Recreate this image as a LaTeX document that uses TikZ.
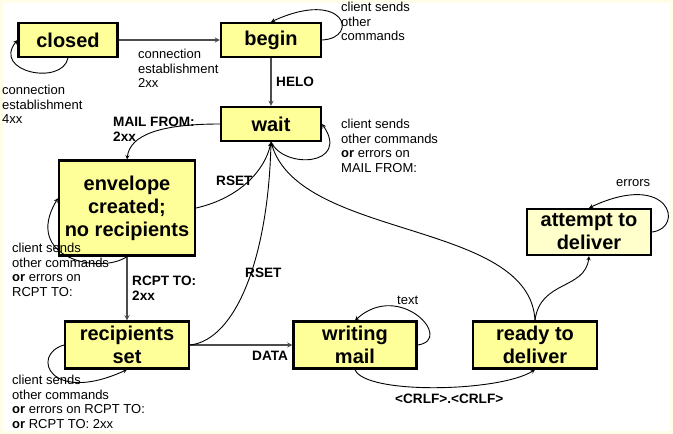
\documentclass[tikz,border=0pt]{standalone}
\usepackage{fontspec}
\setmainfont{Liberation Sans}
\usetikzlibrary{arrows}
\definecolor{boxyellow}{RGB}{255,255,153}
\definecolor{paleyellow}{RGB}{255,255,204}
\definecolor{cream}{RGB}{255,252,232}
\begin{document}
\begin{tikzpicture}[>=stealth,x=1pt,y=-1pt,
	box/.style={draw,line width=2.2pt,fill=boxyellow,align=center,inner sep=0pt,
		font=\bfseries\fontsize{20}{23}\selectfont},
	lbl/.style={anchor=north west,inner sep=0pt,align=left,font=\fontsize{13}{14.5}\selectfont},
	cmd/.style={lbl,font=\bfseries\fontsize{13.6}{14.5}\selectfont},
	straight/.style={->,draw=black!70,line width=1.3pt},
	curve/.style={->,line width=0.9pt}]
			\useasboundingbox (0,0) rectangle (673,434);
			\fill[cream] (0,0) rectangle (673,434);
			\fill[white] (3,3) rectangle (670,431);
			% states
			\node[box,minimum width=99,minimum height=34] (closed) at (68,40) {closed};
			\node[box,minimum width=100,minimum height=34] (begin) at (271,40) {begin};
			\node[box,minimum width=100,minimum height=34] (wait) at (271,124) {wait};
			\node[box,minimum width=136,minimum height=95] (envelope) at (127,208) {envelope\\created;\\no recipients};
			\node[box,minimum width=124,minimum height=47] (rcpts) at (127,345) {recipients\\set};
			\node[box,minimum width=123,minimum height=47] (writing) at (355,345) {writing\\mail};
			\node[box,minimum width=124,minimum height=47] (ready) at (535,345) {ready to\\deliver};
			\node[box,fill=paleyellow,minimum width=124,minimum height=46] (attempt) at (589,232) {attempt to\\deliver};
			% straight transitions
			\draw[straight] (closed) -- (begin);
			\draw[straight] (begin) -- (wait);
			\draw[straight] (envelope) -- (rcpts);
			\draw[straight] (rcpts) -- (writing);
			% curved transitions
			\draw[curve] (closed.south) .. controls (62,86) and (-8,72) .. (closed.west);
			\draw[curve] (begin.east) .. controls (360,38) and (345,-12) .. (begin.north);
			\draw[curve] (wait.south) .. controls (285,170) and (350,165) .. (wait.east);
			\draw[curve] (wait.west) .. controls (160,124) and (130,135) .. (envelope.north);
			\draw[curve] (envelope.east) .. controls (240,198) and (265,170) .. (wait.south);
			\draw[curve] (envelope.south) .. controls (100,275) and (22,258) .. (envelope.172);
			\draw[curve] (rcpts.west) .. controls (30,355) and (50,405) .. (rcpts.south);
			\draw[curve] (rcpts.east) .. controls (235,340) and (268,260) .. (wait.south);
			\draw[curve] (writing.east) .. controls (455,340) and (400,280) .. (writing.north);
			\draw[curve] (writing.south) .. controls (365,395) and (500,392) .. (ready.south);
			\draw[curve] (ready.north) .. controls (530,220) and (300,240) .. (wait.south);
			\draw[curve] (ready.north) .. controls (540,280) and (585,290) .. (attempt.south);
			\draw[curve] (attempt.east) .. controls (685,228) and (670,170) .. (attempt.north);
			% labels
			\node[lbl] (l2xx) at (138,49) {connection\\establishment\\2xx};
			\node[lbl] (l4xx) at (2,85) {connection\\establishment\\4xx};
			\node[lbl] (lbegin) at (341,2) {client sends\\other\\commands};
			\node[cmd] (lhelo) at (276,77) {HELO};
			\node[lbl] (lwait) at (341,119) {client sends\\other commands\\\textbf{or} errors on\\MAIL FROM:};
			\node[cmd] (lmail) at (113,117) {MAIL FROM:\\2xx};
			\node[cmd] (lrset1) at (216,176) {RSET};
			\node[lbl] (lenv) at (12,243) {client sends\\other commands\\\textbf{or} errors on\\RCPT TO:};
			\node[cmd] (lrcpt) at (132,276) {RCPT TO:\\2xx};
			\node[cmd] (lrset2) at (245,268) {RSET};
			\node[lbl] (lrcpts) at (12,375) {client sends\\other commands\\\textbf{or} errors on RCPT TO:\\\textbf{or} RCPT TO: 2xx};
			\node[cmd] (ldata) at (252,351) {DATA};
			\node[lbl] (ltext) at (397,296) {text};
			\node[cmd] (lcrlf) at (395,394) {<CRLF>.<CRLF>};
			\node[lbl] (lerr) at (616,179) {errors};
	\end{tikzpicture}
\end{document}
